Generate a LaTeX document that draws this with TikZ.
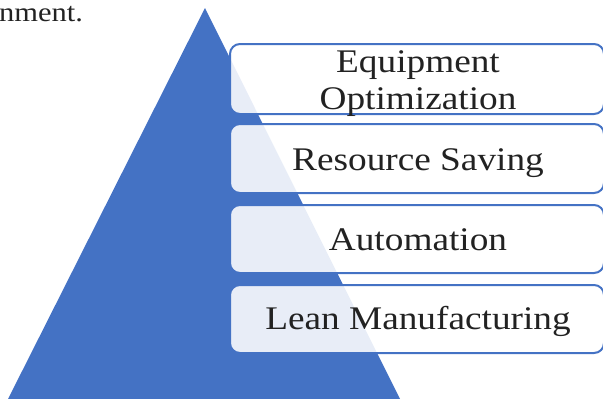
\documentclass[tikz,border=0pt]{standalone}
\usepackage{fontspec}
\setmainfont{Liberation Serif}[FakeStretch=1.13]
\definecolor{pblue}{HTML}{4472C4}
\definecolor{tgray}{HTML}{222222}
\begin{document}
\begin{tikzpicture}[x=1pt,y=-1pt,
  layerbox/.style={draw=pblue,line width=2pt,rounded corners=10pt,fill=white,fill opacity=0.88},
  layertext/.style={text=tgray,font=\fontsize{33}{37}\selectfont,align=center,inner sep=0pt}]
\useasboundingbox (0,0) rectangle (603,399);
\fill[pblue] (205,8) -- (402,403) -- (6,403) -- cycle;
\node[anchor=base west,inner sep=0pt,text=tgray,font=\fontsize{27}{30}\selectfont] (intro) at (-1,21) {nment.};
\draw[layerbox] (230,44) rectangle (604,114);
\draw[layerbox] (230,124) rectangle (604,193);
\draw[layerbox] (230,205) rectangle (604,273);
\draw[layerbox] (230,285) rectangle (604,353);
\node[layertext,anchor=base] (l1) at (418,109) {Equipment\\Optimization};
\node[layertext,anchor=base] (l2) at (418,170) {Resource Saving};
\node[layertext,anchor=base] (l3) at (418,250) {Automation};
\node[layertext,anchor=base] (l4) at (418,329) {Lean Manufacturing};
\end{tikzpicture}
\end{document}
